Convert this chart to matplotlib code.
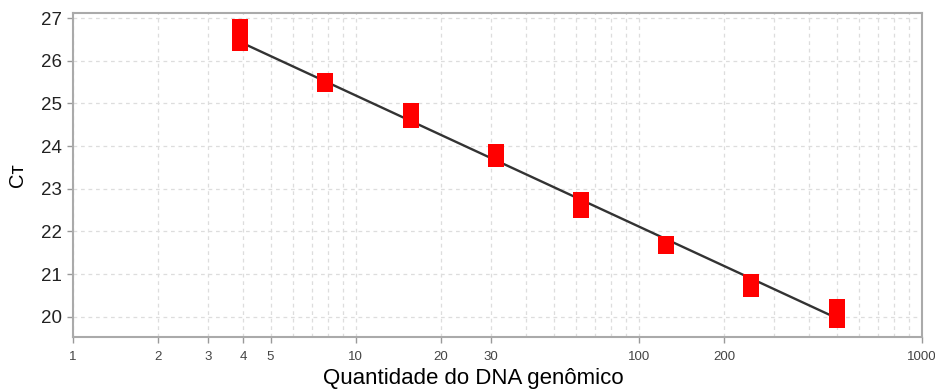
import matplotlib
matplotlib.use("Agg")
import matplotlib.pyplot as plt
import numpy as np
from matplotlib import font_manager
from matplotlib.ticker import FixedLocator, LogLocator, NullFormatter

# dados da curva padrão (diluições seriadas 1:2)
quantities = [3.90625, 7.8125, 15.625, 31.25, 62.5, 125, 250, 500]
ct_rep1 = [26.80, 25.53, 24.83, 23.86, 22.74, 21.70, 20.81, 20.23]
ct_rep2 = [26.42, 25.46, 24.61, 23.70, 22.50, 21.66, 20.65, 19.92]

# reta de regressão: Ct = intercept + slope * log10(q)
fit_slope = -3.07
fit_intercept = 28.257

xtick_values = [1, 2, 3, 4, 5, 10, 20, 30, 100, 200, 1000]
xtick_labels = ["1", "2", "3", "4", "5", "10", "20", "30", "100", "200", "1000"]
ytick_values = [20, 21, 22, 23, 24, 25, 26, 27]

plt.rcParams["font.family"] = ["Liberation Sans", "DejaVu Sans"]

names = {f.name for f in font_manager.fontManager.ttflist}
narrow = "Liberation Sans Narrow" if "Liberation Sans Narrow" in names else "Liberation Sans"

fig = plt.figure(figsize=(9.35, 3.89), dpi=100)
ax = fig.add_axes([0.0778, 0.1329, 0.908, 0.8337])

# reta
q_line = np.array([quantities[0], quantities[-1]])
ax.plot(q_line, fit_intercept + fit_slope * np.log10(q_line),
        color="#333333", linewidth=1.7, zorder=3)

# replicatas
for reps in (ct_rep1, ct_rep2):
    ax.plot(quantities, reps, linestyle="none", marker="s", markersize=11.5,
            markerfacecolor="red", markeredgewidth=0, zorder=4)

ax.set_xscale("log")
ax.set_xlim(1, 1000)
ax.set_ylim(19.52, 27.12)

ax.xaxis.set_major_locator(FixedLocator(xtick_values))
ax.set_xticklabels(xtick_labels, fontsize=9.5, color="#444444", family=[narrow])
ax.xaxis.set_minor_locator(LogLocator(base=10, subs=np.arange(2, 10)))
ax.xaxis.set_minor_formatter(NullFormatter())
ax.set_yticks(ytick_values)
ax.set_yticklabels([str(v) for v in ytick_values], fontsize=13.5, color="#222222")

ax.tick_params(axis="both", which="major", direction="out", length=4,
               width=1, color="#999999")
ax.tick_params(axis="x", which="minor", length=0)
ax.tick_params(axis="x", pad=6)

ax.grid(True, which="both", axis="x", linestyle=(0, (3, 3)), color="#dddddd", linewidth=0.9)
ax.grid(True, which="major", axis="y", linestyle=(0, (3, 3)), color="#dddddd", linewidth=0.9)
ax.set_axisbelow(True)

for side in ["left", "right", "top", "bottom"]:
    ax.spines[side].set_color("#aaaaaa")
    ax.spines[side].set_linewidth(1.5)

ax.set_xlabel("Quantidade do DNA genômico", fontsize=16)
ax.xaxis.set_label_coords(0.4715, -0.095)
ax.xaxis.label.set_verticalalignment("top")
ax.set_ylabel("Cᴛ", fontsize=14.5, labelpad=10)

fig.savefig("out.png", dpi=100)
